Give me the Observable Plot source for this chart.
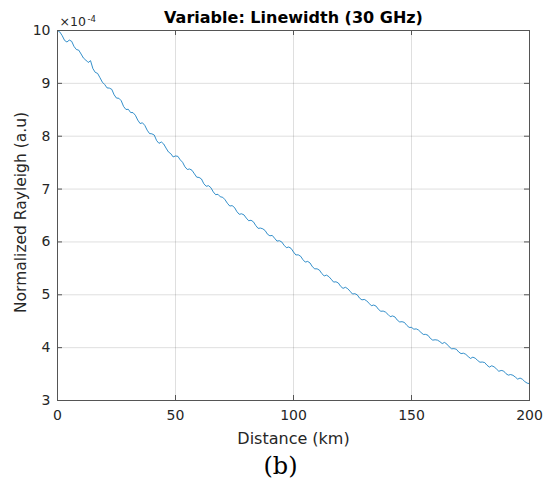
<!DOCTYPE html>
<html>
<head>
<meta charset="utf-8">
<script src="https://cdn.jsdelivr.net/npm/d3@7"></script>
<script src="https://cdn.jsdelivr.net/npm/@observablehq/plot@0.6"></script>
<style>
  html, body { margin: 0; padding: 0; background: #fff; }
  #chart svg { display: block; }
</style>
</head>
<body>
<div id="chart"></div>
<script>
const distanceKm = [0,1,2,3,4,5,6,7,8,9,10,11,12,13,14,15,16,17,18,19,20,21,22,23,24,25,26,27,28,29,30,31,32,33,34,35,36,37,38,39,40,41,42,43,44,45,46,47,48,49,50,51,52,53,54,55,56,57,58,59,60,61,62,63,64,65,66,67,68,69,70,71,72,73,74,75,76,77,78,79,80,81,82,83,84,85,86,87,88,89,90,91,92,93,94,95,96,97,98,99,100,101,102,103,104,105,106,107,108,109,110,111,112,113,114,115,116,117,118,119,120,121,122,123,124,125,126,127,128,129,130,131,132,133,134,135,136,137,138,139,140,141,142,143,144,145,146,147,148,149,150,151,152,153,154,155,156,157,158,159,160,161,162,163,164,165,166,167,168,169,170,171,172,173,174,175,176,177,178,179,180,181,182,183,184,185,186,187,188,189,190,191,192,193,194,195,196,197,198,199,200];
const rayleigh = [10.000,9.971,9.901,9.812,9.782,9.819,9.796,9.698,9.640,9.628,9.555,9.478,9.441,9.395,9.429,9.279,9.208,9.188,9.107,9.023,8.978,8.914,8.910,8.887,8.783,8.721,8.718,8.671,8.563,8.506,8.509,8.448,8.446,8.396,8.305,8.240,8.254,8.204,8.114,8.050,8.045,8.022,7.918,7.865,7.891,7.853,7.775,7.703,7.670,7.608,7.626,7.620,7.553,7.507,7.421,7.371,7.380,7.355,7.289,7.225,7.220,7.191,7.101,7.053,7.064,7.026,6.947,6.894,6.901,6.853,6.845,6.798,6.731,6.679,6.687,6.651,6.574,6.523,6.532,6.512,6.451,6.401,6.410,6.381,6.311,6.257,6.262,6.248,6.214,6.145,6.116,6.123,6.069,6.016,6.023,6.001,5.938,5.891,5.904,5.877,5.809,5.753,5.756,5.730,5.664,5.618,5.632,5.602,5.531,5.491,5.491,5.466,5.401,5.357,5.372,5.343,5.293,5.240,5.246,5.223,5.159,5.121,5.142,5.114,5.066,5.014,5.021,4.999,4.936,4.904,4.912,4.886,4.839,4.793,4.806,4.785,4.724,4.688,4.692,4.672,4.631,4.586,4.600,4.580,4.520,4.486,4.491,4.477,4.422,4.383,4.383,4.349,4.355,4.332,4.288,4.250,4.251,4.233,4.175,4.142,4.149,4.142,4.114,4.077,4.099,4.067,4.015,3.978,3.981,3.970,3.918,3.887,3.895,3.874,3.832,3.796,3.820,3.800,3.759,3.724,3.728,3.718,3.667,3.632,3.657,3.637,3.597,3.553,3.568,3.559,3.509,3.480,3.491,3.477,3.443,3.404,3.425,3.402,3.358,3.329,3.319];
const xTicks = [0,50,100,150,200];
const yTicks = [3,4,5,6,7,8,9,10];
const xGrid = [50,100,150];
const yGrid = [4,5,6,7,8,9];
const titleText = "Variable: Linewidth (30 GHz)";
const xLabel = "Distance (km)";
const yLabel = "Normalized Rayleigh (a.u)";
const expBase = "×10";
const expPower = "-4";
const caption = "(b)";

const data = distanceKm.map((d, i) => ({x: d, y: rayleigh[i]}));

const W = 543, H = 482, ML = 57, MR = 14, MT = 30, MB = 82;
const innerW = W - ML - MR, innerH = H - MT - MB, tk = 5;
const axisColor = "#262626";

const chart = Plot.plot({
  width: W, height: H,
  marginLeft: ML, marginRight: MR, marginTop: MT, marginBottom: MB,
  style: {fontFamily: "DejaVu Sans", color: axisColor, background: "white", overflow: "visible"},
  x: {domain: [0, 200]},
  y: {domain: [3, 10]},
  marks: [
    Plot.gridX(xGrid, {stroke: axisColor, strokeOpacity: 0.15}),
    Plot.gridY(yGrid, {stroke: axisColor, strokeOpacity: 0.15}),
    Plot.line(data, {x: "x", y: "y", stroke: "#0072BD", strokeWidth: 0.8}),
    Plot.frame({stroke: "#555"}),
    Plot.tickX(xTicks, {x: d => d, insetTop: innerH - tk, stroke: "#555"}),
    Plot.tickX(xTicks, {x: d => d, insetBottom: innerH - tk, stroke: "#555"}),
    Plot.tickY(yTicks, {y: d => d, insetRight: innerW - tk, stroke: "#555"}),
    Plot.tickY(yTicks, {y: d => d, insetLeft: innerW - tk, stroke: "#555"}),
    Plot.axisX({ticks: xTicks, tickSize: 0, tickPadding: 10, fontSize: 14, label: null, color: axisColor, tickFormat: d => String(d)}),
    Plot.axisY({ticks: yTicks, tickSize: 0, tickPadding: 7, fontSize: 14, label: null, color: axisColor, tickFormat: d => String(d)}),
    Plot.text([titleText], {text: d => d, frameAnchor: "top", textAnchor: "middle", lineAnchor: "bottom", dy: -8, fontSize: 16, fontWeight: "bold", fill: "black"}),
    Plot.text([xLabel], {text: d => d, frameAnchor: "bottom", textAnchor: "middle", lineAnchor: "bottom", dy: 43, fontSize: 16, fill: axisColor}),
    Plot.text([yLabel], {text: d => d, frameAnchor: "left", textAnchor: "middle", lineAnchor: "bottom", rotate: -90, dx: -32, dy: -3, fontSize: 15.5, fill: axisColor}),
    Plot.text([expBase], {text: d => d, frameAnchor: "top-left", textAnchor: "start", lineAnchor: "bottom", dx: 2, dy: -5, fontSize: 12.5, fill: axisColor}),
    Plot.text([expPower], {text: d => d, frameAnchor: "top-left", textAnchor: "start", lineAnchor: "bottom", dx: 30, dy: -9, fontSize: 8.5, fill: axisColor}),
    Plot.text([caption], {text: d => d, frameAnchor: "bottom", textAnchor: "middle", lineAnchor: "bottom", dx: -13, dy: 73, fontSize: 24, fontFamily: "DejaVu Serif", fill: "black"})
  ]
});
document.getElementById("chart").appendChild(chart);
</script>
</body>
</html>
